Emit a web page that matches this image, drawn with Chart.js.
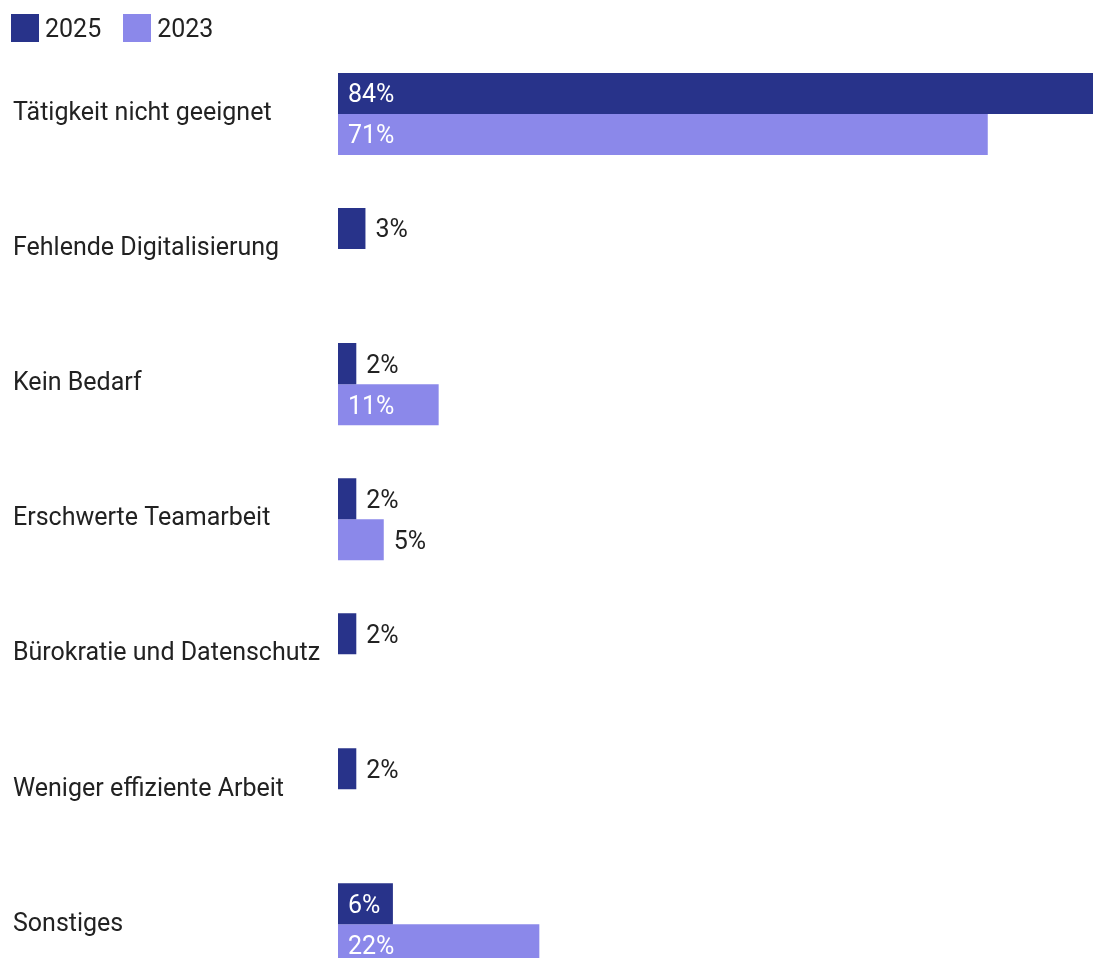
<!DOCTYPE html>
<html lang="de">
<head>
<meta charset="utf-8">
<title>Gründe gegen Homeoffice</title>
<script src="https://cdn.jsdelivr.net/npm/chart.js@4.4.1/dist/chart.umd.min.js"></script>
<style>
  html, body { margin: 0; padding: 0; background: #ffffff; overflow: hidden; }
  canvas { display: block; }
</style>
</head>
<body>
<canvas id="chart" width="1093" height="992"></canvas>
<script>
// Reasons, in display order
const categories = [
  'Tätigkeit nicht geeignet',
  'Fehlende Digitalisierung',
  'Kein Bedarf',
  'Erschwerte Teamarbeit',
  'Bürokratie und Datenschutz',
  'Weniger effiziente Arbeit',
  'Sonstiges'
];
const seriesLabels = ['2025', '2023'];
// Shares in percent; null = not asked that year
const values2025 = [84, 3, 2, 2, 2, 2, 6];
const values2023 = [71, null, 11, 5, null, null, 22];

const COLOR_2025 = '#28338a';
const COLOR_2023 = '#8b88ea';
const TEXT = '#222222';
const FONT = 'Roboto, "Noto Sans", sans-serif';
const FONT_SIZE = 25;

// Square legend swatch; the extra transparent strip below lifts the square
// so it lines up with the optical centre of the label text
function makeSwatch(color) {
  const c = document.createElement('canvas');
  c.width = 28;
  c.height = 34;
  const g = c.getContext('2d');
  g.fillStyle = color;
  g.fillRect(0, 0, 28, 28);
  return c;
}
const swatches = [makeSwatch(COLOR_2025), makeSwatch(COLOR_2023)];

// Percent labels: white inside wide bars, dark just past the end of narrow ones
const valueLabels = {
  id: 'valueLabels',
  afterDatasetsDraw(chart) {
    const ctx = chart.ctx;
    ctx.save();
    ctx.font = FONT_SIZE + 'px ' + FONT;
    ctx.textAlign = 'left';
    ctx.textBaseline = 'alphabetic';
    chart.data.datasets.forEach((ds, di) => {
      const meta = chart.getDatasetMeta(di);
      meta.data.forEach((bar, i) => {
        const v = ds.data[i];
        if (v === null || v === undefined) return;
        const inside = v >= 6;
        const start = Math.min(bar.base, bar.x);
        const end = Math.max(bar.base, bar.x);
        const x = inside ? start + 10 : end + 10;
        ctx.fillStyle = inside ? '#ffffff' : TEXT;
        ctx.fillText(v + '%', x, bar.y + 8.9);
      });
    });
    ctx.restore();
  }
};

// Category labels sit flush left, a small margin in from the canvas edge
const leftLabels = {
  id: 'leftLabels',
  afterLayout(chart) {
    chart.scales.y.left = 13;
  }
};

new Chart(document.getElementById('chart'), {
  type: 'bar',
  data: {
    labels: categories,
    datasets: [
      { label: seriesLabels[0], data: values2025, backgroundColor: COLOR_2025, borderWidth: 0 },
      { label: seriesLabels[1], data: values2023, backgroundColor: COLOR_2023, borderWidth: 0 }
    ]
  },
  options: {
    indexAxis: 'y',
    responsive: false,
    animation: false,
    layout: { padding: { left: -11, right: 0, top: -10, bottom: 0 } },
    datasets: {
      bar: { categoryPercentage: 0.6074, barPercentage: 1.0 }
    },
    scales: {
      x: {
        display: false,
        min: 0,
        max: 82.5
      },
      y: {
        grid: { display: false },
        border: { display: false },
        ticks: {
          autoSkip: false,
          crossAlign: 'far',
          padding: 0,
          labelOffset: 0,
          color: TEXT,
          font: { family: FONT, size: FONT_SIZE, lineHeight: 0.01 }
        },
        afterFit(scale) { scale.width = 349; }
      }
    },
    plugins: {
      legend: {
        position: 'top',
        align: 'start',
        maxHeight: 56.5,
        labels: {
          usePointStyle: true,
          pointStyleWidth: 15,
          padding: 28.5,
          color: TEXT,
          font: { family: FONT, size: FONT_SIZE },
          generateLabels(chart) {
            const items = Chart.defaults.plugins.legend.labels.generateLabels(chart);
            items.forEach((item, i) => { item.pointStyle = swatches[item.datasetIndex ?? i]; });
            return items;
          }
        }
      },
      tooltip: { enabled: false }
    }
  },
  plugins: [valueLabels, leftLabels]
});
</script>
</body>
</html>
